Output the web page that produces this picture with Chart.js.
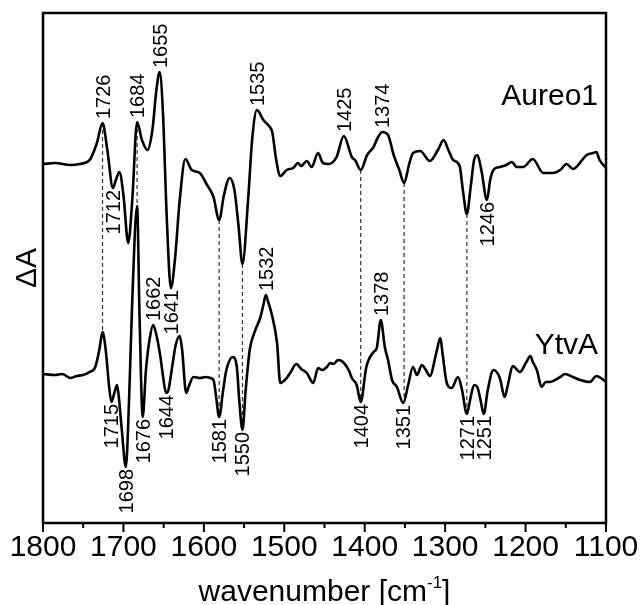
<!DOCTYPE html>
<html>
<head>
<meta charset="utf-8">
<script src="https://cdn.jsdelivr.net/npm/chart.js@4.4.1/dist/chart.umd.min.js"></script>
<style>
  html, body { margin: 0; padding: 0; background: #fff; }
  #wrap { width: 642px; height: 605px; position: relative; }
</style>
</head>
<body>
<div id="wrap"><canvas id="chart"></canvas></div>
<script>
// FTIR light-minus-dark difference spectra, Aureo1 vs YtvA

// Aureo1 trace (wavenumber, dA in arbitrary units)
const aureoWn = [1800, 1785, 1766, 1754, 1742, 1733, 1726, 1720, 1713, 1709, 1705, 1700, 1694, 1689, 1683,
  1677, 1670, 1664, 1659, 1655, 1651, 1646, 1641, 1636, 1630, 1623, 1615, 1605, 1596, 1588, 1581, 1575,
  1568, 1562, 1557, 1552, 1545, 1540, 1534, 1526, 1518, 1515, 1510, 1505, 1497, 1489, 1483, 1479, 1472,
  1466, 1458, 1452, 1445, 1435, 1426, 1416, 1412, 1405, 1397, 1389, 1384, 1378, 1371, 1364, 1357, 1351,
  1345, 1340, 1331, 1319, 1309, 1302, 1296, 1290, 1282, 1278, 1273, 1268, 1264, 1260, 1255, 1248, 1244,
  1240, 1232, 1224, 1217, 1211, 1203, 1191, 1178, 1166, 1157, 1149, 1141, 1124, 1116, 1112, 1108, 1100];
const aureoDA = [-0.01, 0.00, -0.02, -0.01, 0.03, 0.20, 0.40, 0.13, -0.25, -0.16, -0.09, -0.32, -0.80, -0.37, 0.41,
  0.23, 0.13, 0.33, 0.73, 0.91, 0.53, -0.57, -1.25, -0.97, -0.37, 0.04, -0.07, -0.10, -0.22, -0.34, -0.57, -0.32,
  -0.15, -0.27, -0.62, -1.01, -0.37, 0.23, 0.53, 0.43, 0.36, 0.31, 0.03, -0.13, -0.07, -0.05, 0.00, -0.03, 0.02,
  -0.04, 0.10, 0.00, -0.01, 0.06, 0.27, 0.06, 0.03, -0.07, 0.08, 0.16, 0.25, 0.31, 0.28, 0.08, -0.07, -0.20,
  -0.02, 0.10, 0.12, 0.02, 0.13, 0.23, 0.13, 0.03, -0.03, -0.27, -0.51, -0.22, 0.03, 0.08, -0.07, -0.37, -0.17,
  -0.07, -0.04, -0.02, 0.01, -0.04, -0.04, 0.04, -0.10, -0.10, -0.07, -0.01, -0.06, 0.08, 0.10, 0.11, 0.03, -0.05];

// YtvA trace
const ytvaWn = [1800, 1785, 1776, 1766, 1758, 1750, 1742, 1735, 1730, 1726, 1722, 1718, 1715, 1711, 1708, 1706,
  1702, 1697, 1693, 1689, 1683, 1680, 1676, 1672, 1667, 1663, 1659, 1654, 1651, 1647, 1644, 1640, 1635, 1630,
  1627, 1622, 1619, 1613, 1605, 1597, 1592, 1588, 1585, 1581, 1576, 1572, 1564, 1559, 1556, 1552, 1548, 1543,
  1536, 1530, 1526, 1523, 1520, 1516, 1509, 1505, 1497, 1492, 1485, 1479, 1472, 1464, 1458, 1453, 1447, 1443,
  1439, 1433, 1427, 1420, 1416, 1410, 1405, 1398, 1389, 1385, 1380, 1375, 1371, 1366, 1360, 1352, 1346, 1340,
  1335, 1329, 1324, 1319, 1311, 1306, 1303, 1298, 1292, 1284, 1279, 1273, 1269, 1264, 1260, 1256, 1252, 1247,
  1240, 1232, 1226, 1222, 1216, 1207, 1199, 1194, 1191, 1186, 1180, 1175, 1170, 1157, 1151, 1141, 1132, 1120,
  1112, 1103, 1100];
const ytvaDA = [0.01, 0.00, 0.01, -0.03, -0.01, 0.00, 0.03, 0.08, 0.25, 0.43, 0.25, -0.10, -0.27, -0.17, -0.10, -0.20,
  -0.55, -0.92, -0.25, 0.75, 1.69, 0.60, -0.42, 0.05, 0.38, 0.50, 0.40, 0.18, 0.00, -0.18, -0.15, 0.05, 0.30, 0.39,
  0.25, -0.18, -0.12, -0.02, -0.03, -0.02, -0.03, -0.05, -0.20, -0.42, -0.15, 0.05, 0.18, 0.08, -0.25, -0.55, -0.15, 0.25,
  0.45, 0.57, 0.70, 0.80, 0.73, 0.62, 0.32, -0.08, -0.03, 0.03, 0.11, 0.06, 0.02, -0.08, 0.07, 0.05, 0.08, 0.12,
  0.11, 0.15, 0.13, 0.05, -0.03, -0.10, -0.27, 0.08, 0.23, 0.27, 0.55, 0.28, 0.15, -0.05, -0.12, -0.28, -0.10, 0.08,
  0.00, 0.10, 0.05, -0.01, 0.22, 0.37, 0.20, -0.08, -0.13, -0.02, -0.15, -0.39, -0.25, -0.10, -0.12, -0.25, -0.39, -0.15,
  0.05, -0.03, -0.22, -0.10, 0.09, 0.03, 0.13, 0.19, 0.13, 0.05, -0.12, -0.07, -0.07, -0.02, 0.01, -0.02, -0.05, -0.07,
  -0.01, -0.05, -0.07];

// vertical offset between the stacked spectra
const AUREO_OFFSET = 2.12;

// band assignments: label text, which trace, above or below the curve
const aureoPeaks = ['1726', '1684', '1655', '1535', '1425', '1374'];
const aureoDips = ['1712', '1641', '1246'];
const ytvaPeaks = ['1662', '1532', '1378'];
const ytvaDips = ['1715', '1698', '1676', '1644', '1581', '1550', '1404', '1351', '1271', '1251'];

// dashed guides connecting common bands of both spectra
const guideWn = [1726, 1683, 1581, 1552, 1405, 1351, 1273];

const xTicks = [1800, 1700, 1600, 1500, 1400, 1300, 1200, 1100];

const FONT = '"Liberation Sans", Arial, Helvetica, sans-serif';

function pts(wn, da, off) {
  return wn.map((w, i) => ({ x: w, y: da[i] + off }));
}

function valueAt(data, w) {
  for (let i = 0; i < data.length - 1; i++) {
    const a = data[i], b = data[i + 1];
    if ((w <= a.x && w >= b.x)) {
      const f = (a.x - w) / (a.x - b.x || 1);
      return a.y + (b.y - a.y) * f;
    }
  }
  return 0;
}

function extremeNear(data, w, up) {
  let best = null;
  for (const p of data) {
    if (Math.abs(p.x - w) > 10) continue;
    if (!best || (up ? p.y > best.y : p.y < best.y)) best = p;
  }
  return best;
}

const aureoData = pts(aureoWn, aureoDA, AUREO_OFFSET);
const ytvaData = pts(ytvaWn, ytvaDA, 0);

const guidePlugin = {
  id: 'guides',
  beforeDatasetsDraw(chart) {
    const ctx = chart.ctx, xs = chart.scales.x, ys = chart.scales.y;
    ctx.save();
    ctx.strokeStyle = '#333';
    ctx.lineWidth = 1.2;
    ctx.setLineDash([4, 3]);
    for (const w of guideWn) {
      const x = xs.getPixelForValue(w);
      ctx.beginPath();
      ctx.moveTo(x, ys.getPixelForValue(valueAt(aureoData, w)));
      ctx.lineTo(x, ys.getPixelForValue(valueAt(ytvaData, w)));
      ctx.stroke();
    }
    ctx.restore();
  }
};

const decorPlugin = {
  id: 'decor',
  afterDatasetsDraw(chart) {
    const ctx = chart.ctx, xs = chart.scales.x, ys = chart.scales.y;
    const area = chart.chartArea;
    ctx.save();

    // peak labels, rotated
    ctx.fillStyle = '#000';
    ctx.font = '20px ' + FONT;
    ctx.textBaseline = 'middle';
    const put = (list, data, up) => {
      for (const t of list) {
        const p = extremeNear(data, +t, up);
        const x = xs.getPixelForValue(p.x) + 1.5;
        const y = ys.getPixelForValue(p.y);
        ctx.save();
        ctx.translate(x, up ? y - 4 : y + 2);
        ctx.rotate(-Math.PI / 2);
        ctx.textAlign = up ? 'left' : 'right';
        ctx.fillText(t, 0, 0);
        ctx.restore();
      }
    };
    put(aureoPeaks, aureoData, true);
    put(aureoDips, aureoData, false);
    put(ytvaPeaks, ytvaData, true);
    put(ytvaDips, ytvaData, false);

    // series names
    ctx.font = '30px ' + FONT;
    ctx.textAlign = 'right';
    ctx.fillText('Aureo1', area.right - 8, ys.getPixelForValue(AUREO_OFFSET + 0.66));
    ctx.fillText('YtvA', area.right - 8, ys.getPixelForValue(0.29));

    // frame
    ctx.strokeStyle = '#000';
    ctx.lineWidth = 2.5;
    ctx.strokeRect(area.left, area.top, area.right - area.left, area.bottom - area.top);

    // major / minor ticks
    ctx.lineWidth = 2;
    for (const t of xs.ticks) {
      const x = xs.getPixelForValue(t.value);
      const len = xTicks.includes(t.value) ? 9 : 5;
      ctx.beginPath();
      ctx.moveTo(x, area.bottom);
      ctx.lineTo(x, area.bottom + len);
      ctx.stroke();
    }

    // x axis title with superscript
    const cx = (area.left + area.right) / 2;
    const by = 601;
    ctx.textAlign = 'left';
    ctx.textBaseline = 'alphabetic';
    ctx.font = '30px ' + FONT;
    const a = 'wavenumber [cm', c = ']';
    ctx.font = '17px ' + FONT;
    const wb = ctx.measureText('-1').width;
    ctx.font = '30px ' + FONT;
    const wa = ctx.measureText(a).width, wc = ctx.measureText(c).width;
    let x0 = cx - (wa + wb + wc) / 2;
    ctx.fillText(a, x0, by);
    ctx.font = '17px ' + FONT;
    ctx.fillText('-1', x0 + wa, by - 13);
    ctx.font = '30px ' + FONT;
    ctx.fillText(c, x0 + wa + wb, by);
    ctx.restore();
  }
};

new Chart(document.getElementById('chart'), {
  type: 'line',
  data: {
    datasets: [
      { label: 'Aureo1', data: aureoData, borderColor: '#000', borderWidth: 2.6, pointRadius: 0,
        cubicInterpolationMode: 'monotone', fill: false },
      { label: 'YtvA', data: ytvaData, borderColor: '#000', borderWidth: 2.6, pointRadius: 0,
        cubicInterpolationMode: 'monotone', fill: false }
    ]
  },
  options: {
    responsive: true,
    maintainAspectRatio: false,
    animation: false,
    layout: { padding: { top: 13, right: 36, bottom: 0, left: 0 } },
    plugins: { legend: { display: false }, tooltip: { enabled: false } },
    scales: {
      x: {
        type: 'linear',
        reverse: true,
        min: 1100,
        max: 1800,
        border: { display: false },
        grid: { drawOnChartArea: false, drawTicks: true, tickLength: 9, tickColor: 'rgba(0,0,0,0)' },
        ticks: {
          stepSize: 50,
          autoSkip: false,
          maxRotation: 0,
          padding: -2,
          color: '#000',
          font: { size: 30, family: FONT },
          callback: v => (xTicks.includes(v) ? String(v) : '')
        },
        afterFit: s => { s.height = 82; }
      },
      y: {
        min: -1.48,
        max: 3.62,
        border: { display: false },
        grid: { display: false },
        ticks: { display: false },
        title: { display: true, text: 'ΔA', color: '#000', font: { size: 30, family: FONT },
          padding: { top: 10, bottom: 0 } },
        afterFit: s => { s.width = 43; }
      }
    }
  },
  plugins: [guidePlugin, decorPlugin]
});
</script>
</body>
</html>
